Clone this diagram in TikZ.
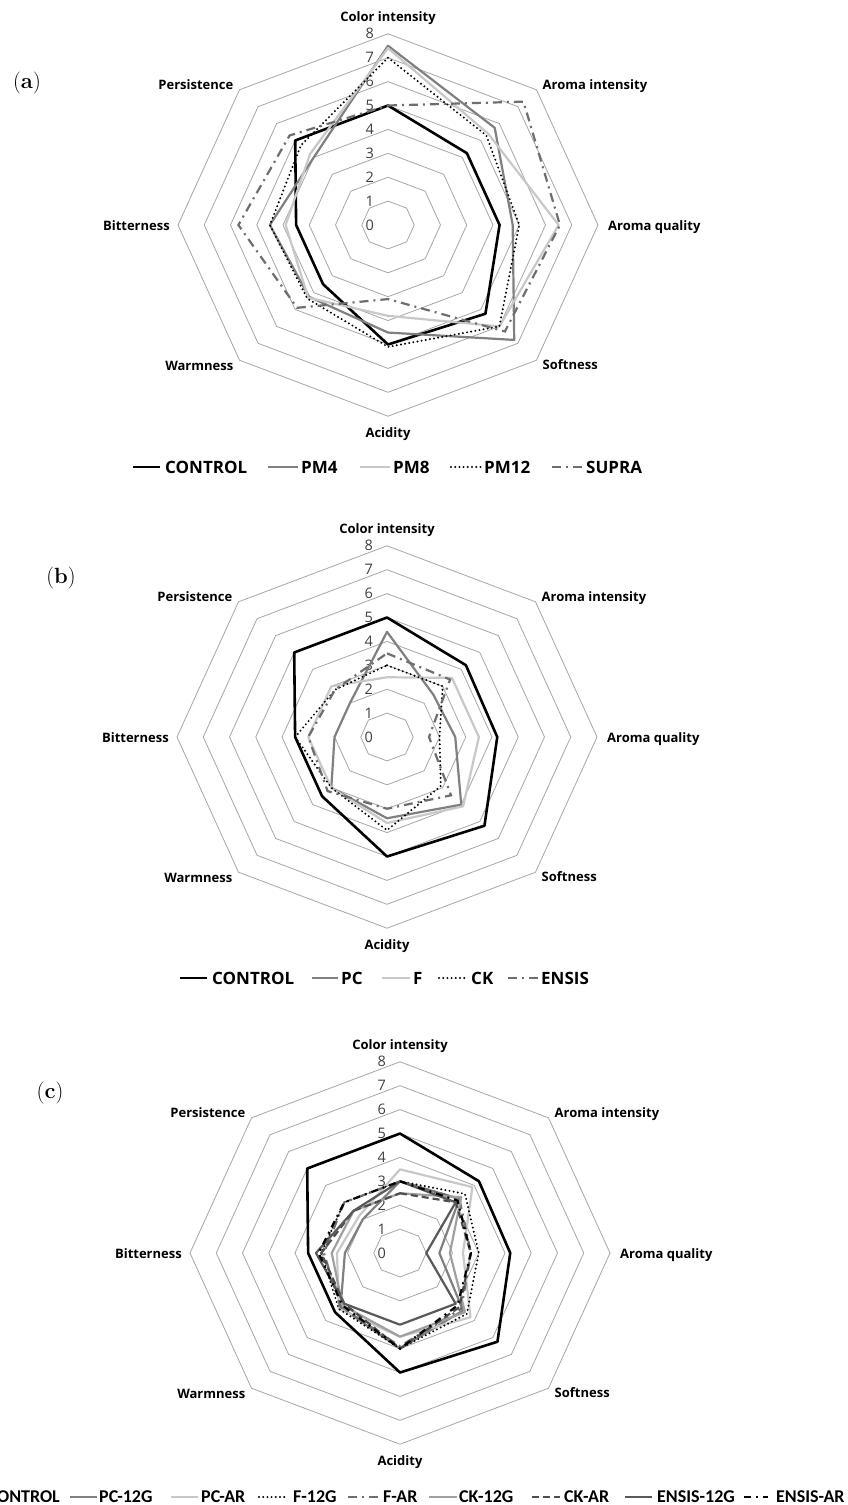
\documentclass[tikz,border=0pt]{standalone}
\usepackage{fontspec}
\newfontfamily\osans{Open Sans}
\newfontfamily\carl{Carlito}
\definecolor{gridgray}{HTML}{A6A6A6}
\definecolor{midgray}{HTML}{808080}
\definecolor{lightgraytwo}{HTML}{C8C8C8}
\definecolor{dashgray}{HTML}{6E6E6E}
\definecolor{numgray}{HTML}{404040}
\definecolor{cktwelve}{HTML}{A0A0A0}
\definecolor{ckar}{HTML}{4D4D4D}
\definecolor{enstwelve}{HTML}{595959}
\newcommand\radarline[9]{\draw[#1] (90:#2) -- (45:#3) -- (0:#4) -- (-45:#5) -- (-90:#6) -- (-135:#7) -- (180:#8) -- (135:#9) -- cycle;}
\newcommand\radargrid[1]{%
  \foreach \r in {1,...,8}
    \draw[grid] (90:\r) -- (45:\r) -- (0:\r) -- (-45:\r) -- (-90:\r) -- (-135:\r) -- (180:\r) -- (135:\r) -- cycle;
  \foreach \r in {0,...,8}
    \node[numlab, anchor=east, xshift=-14pt] (n#1\r) at (90:\r) {\r};
  \node[axlab, anchor=base, yshift=12pt] (ci#1) at (90:8) {Color intensity};
  \node[axlab, anchor=base west, xshift=6pt] (ai#1) at (45:8) {Aroma intensity};
  \node[axlab, anchor=base west, xshift=10pt, yshift=-5pt] (aq#1) at (0:8) {Aroma quality};
  \node[axlab, anchor=base west, xshift=6pt, yshift=-9pt] (so#1) at (-45:8) {Softness};
  \node[axlab, anchor=base, yshift=-21pt] (ac#1) at (-90:8) {Acidity};
  \node[axlab, anchor=base east, xshift=-6pt, yshift=-10pt] (wa#1) at (-135:8) {Warmness};
  \node[axlab, anchor=base east, xshift=-8pt, yshift=-5pt] (bi#1) at (180:8) {Bitterness};
  \node[axlab, anchor=base east, xshift=-6pt] (pe#1) at (135:8) {Persistence};
}
\begin{document}
\begin{tikzpicture}[x=1pt,y=-1pt,
  grid/.style={draw=gridgray, line width=0.8pt},
  sctrl/.style={draw=black, line width=2.6pt, line join=round},
  sgray/.style={draw=midgray, line width=2.2pt, line join=round},
  slight/.style={draw=lightgraytwo, line width=2.2pt, line join=round},
  sdot/.style={draw=black, line width=2.2pt, dash pattern=on 0pt off 4.2pt, line cap=round},
  sdashdot/.style={draw=dashgray, line width=2.2pt, dash pattern=on 9pt off 5pt on 2pt off 5pt},
  sck/.style={draw=cktwelve, line width=2.2pt, line join=round},
  sckar/.style={draw=ckar, line width=2.2pt, dash pattern=on 7pt off 4pt},
  sens/.style={draw=enstwelve, line width=2.2pt, line join=round},
  sensar/.style={draw=black, line width=2.2pt, dash pattern=on 7pt off 5pt on 2pt off 5pt},
  axlab/.style={font=\osans\bfseries\fontsize{13}{15}\selectfont, inner sep=0pt},
  numlab/.style={font=\osans\fontsize{14.5}{16}\selectfont, text=numgray, inner sep=0pt},
  leglab/.style={font=\osans\bfseries\fontsize{17}{20}\selectfont, inner sep=0pt, anchor=west},
  legc/.style={font=\carl\bfseries\fontsize{18}{21}\selectfont, inner sep=0pt, anchor=west},
  panel/.style={font=\fontsize{22}{24}\selectfont, inner sep=0pt}
]
\useasboundingbox (0,0) rectangle (848,1505);
\fill[white] (0,0) rectangle (848,1505);

% ---------------- (a)
\node[panel] (pa) at (27,83) {(\textbf{a})};
\begin{scope}[shift={(388,225)}, x=26.25pt, y=23.9pt]
  \radargrid{a}
  \radarline{sctrl}{5}{4.25}{4.25}{5.25}{5}{3.5}{3.5}{5}
  \radarline{sgray}{7.5}{5.75}{4.75}{6.8}{4.5}{4.25}{4.5}{4.0}
  \radarline{slight}{7.4}{5.4}{6.5}{6.0}{3.8}{4.3}{3.9}{4.2}
  \radarline{sdot}{7.0}{5.3}{5.0}{6.0}{5.1}{4.35}{4.5}{4.7}
  \radarline{sdashdot}{5.0}{7.3}{6.55}{6.3}{3.1}{4.9}{5.7}{5.3}
\end{scope}
\draw[sctrl] (133,467) -- (160,467);
\node[leglab] (la1) at (165,467) {CONTROL};
\draw[sgray] (268,467) -- (298,467);
\node[leglab] (la2) at (301,467) {PM4};
\draw[slight] (360,467) -- (390,467);
\node[leglab] (la3) at (393,467) {PM8};
\draw[sdot] (451,467) -- (481,467);
\node[leglab] (la4) at (484,467) {PM12};
\draw[sdashdot] (552,467) -- (583,467);
\node[leglab] (la5) at (586,467) {SUPRA};

% ---------------- (b)
\node[panel] (pb) at (61,578) {(\textbf{b})};
\begin{scope}[shift={(387,737)}, x=26.25pt, y=23.9pt]
  \radargrid{b}
  \radarline{sctrl}{5}{4.25}{4.2}{5.25}{5}{3.5}{3.5}{5}
  \radarline{sgray}{4.4}{2.5}{2.6}{4.0}{3.4}{3.0}{2.0}{2.0}
  \radarline{slight}{2.5}{3.5}{3.5}{4.1}{3.6}{3.0}{3.0}{3.0}
  \radarline{sdot}{3.0}{3.0}{2.0}{2.9}{3.9}{3.0}{3.5}{2.8}
  \radarline{sdashdot}{3.5}{3.4}{1.6}{3.45}{3.0}{3.2}{3.0}{2.8}
\end{scope}
\draw[sctrl] (180,978) -- (207,978);
\node[leglab] (lb1) at (212,978) {CONTROL};
\draw[sgray] (312,978) -- (338,978);
\node[leglab] (lb2) at (341,978) {PC};
\draw[slight] (382,978) -- (410,978);
\node[leglab] (lb3) at (413,978) {F};
\draw[sdot] (439,978) -- (467,978);
\node[leglab] (lb4) at (471,978) {CK};
\draw[sdashdot] (508,978) -- (538,978);
\node[leglab] (lb5) at (541,978) {ENSIS};

% ---------------- (c)
\node[panel] (pc) at (50,1093) {(\textbf{c})};
\begin{scope}[shift={(400,1253)}, x=26.25pt, y=23.9pt]
  \radargrid{c}
  \radarline{sctrl}{5}{4.25}{4.2}{5.25}{5}{3.5}{3.5}{5}
  \radarline{sgray}{3.0}{3.2}{1.5}{3.4}{4.0}{3.2}{2.1}{2.0}
  \radarline{slight}{3.5}{3.9}{2.4}{3.8}{3.5}{3.3}{2.4}{2.2}
  \radarline{sdot}{3.0}{3.5}{3.0}{3.6}{4.0}{3.3}{3.0}{3.0}
  \radarline{sdashdot}{3.0}{3.2}{2.7}{3.3}{3.9}{3.2}{2.9}{3.0}
  \radarline{sck}{2.5}{3.3}{1.9}{3.5}{3.5}{3.1}{2.6}{2.5}
  \radarline{sckar}{2.5}{3.0}{2.7}{3.2}{4.0}{3.0}{3.0}{2.5}
  \radarline{sens}{3.0}{3.0}{1.0}{3.0}{3.0}{3.0}{3.2}{2.5}
  \radarline{sensar}{3.0}{3.1}{2.7}{3.1}{4.0}{3.1}{3.1}{3.0}
\end{scope}
\node[legc, anchor=east] (lc1) at (60,1497) {CONTROL};
\draw[sgray] (70,1497) -- (97,1497);
\node[legc] (lc2) at (99,1497) {PC-12G};
\draw[slight] (171,1497) -- (198,1497);
\node[legc] (lc3) at (201,1497) {PC-AR};
\draw[sdot] (259,1497) -- (288,1497);
\node[legc] (lc4) at (293,1497) {F-12G};
\draw[sdashdot] (348,1497) -- (380,1497);
\node[legc] (lc5) at (383,1497) {F-AR};
\draw[sck] (429,1497) -- (457,1497);
\node[legc] (lc6) at (459,1497) {CK-12G};
\draw[sckar] (532,1497) -- (560,1497);
\node[legc] (lc7) at (564,1497) {CK-AR};
\draw[sens] (625,1497) -- (652,1497);
\node[legc] (lc8) at (657,1497) {ENSIS-12G};
\draw[sensar] (744,1497) -- (768,1497);
\node[legc] (lc9) at (776,1497) {ENSIS-AR};
\end{tikzpicture}
\end{document}
